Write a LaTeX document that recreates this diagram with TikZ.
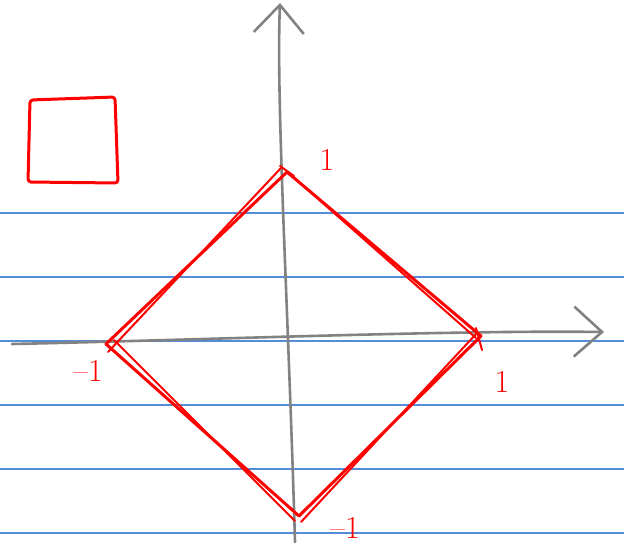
\documentclass[tikz,border=0pt]{standalone}
\usetikzlibrary{arrows.meta}
\definecolor{ruleblue}{RGB}{85,140,215}
\definecolor{axisgray}{RGB}{130,130,130}
\begin{document}
\begin{tikzpicture}[x=1pt,y=-1pt,line cap=round,line join=round,
    axis/.style={axisgray,line width=2.6pt,-{Straight Barb[length=28pt,width=50pt]}},
    sketch/.style={red,line width=3pt},
    tick/.style={red,font=\fontsize{32}{32}\selectfont}]
  \useasboundingbox (0,0) rectangle (624,549);
  \fill[white] (0,0) rectangle (624,549);

  % Ruled lines
  \foreach \y in {213,277,341,405,469,533}
     {\draw[ruleblue,line width=1.3pt] (0,\y) -- (624,\y);}

  % Axes ends
  \coordinate (X0) at (12,344);
  \coordinate (X1) at (604,332);
  \coordinate (Y0) at (295,542);
  \coordinate (Y1) at (280,3);

  % Axes
  \draw[axis] (X0) .. controls (200,340) and (450,330) .. (X1);
  \draw[axis] (Y0) .. controls (288,300) and (276,100) .. (Y1);

  % Square in the corner
  \draw[sketch,rounded corners=3pt] (30,100) -- (115,97) -- (118,183) -- (28,182) -- cycle;

  % Diamond corners
  \coordinate (T) at (287,172);
  \coordinate (R) at (481,336);
  \coordinate (B) at (299,516);
  \coordinate (L) at (106,344);

  % Diamond (two strokes for the sketchy look)
  \draw[sketch] (T) -- (R) -- (B) -- (L) -- cycle;
  \draw[sketch,line width=2pt] ([xshift=4pt,yshift=-3pt]T) -- ([xshift=-5pt,yshift=-2pt]R);
  \draw[sketch,line width=2pt] ([xshift=-4pt,yshift=3pt]R) -- ([xshift=2pt,yshift=-6pt]B);
  \draw[sketch,line width=2pt] ([xshift=-4pt,yshift=-5pt]B) -- ([xshift=8pt,yshift=4pt]L);
  \draw[sketch,line width=2pt] ([xshift=2pt,yshift=-8pt]L) -- ([xshift=-6pt,yshift=4pt]T);
  \draw[sketch,line width=2pt] (280,166) -- (294,176);
  \draw[sketch,line width=2pt] (476,328) -- (482,350);

  % Tick labels
  \foreach \n/\x/\y/\l in {t1/327/160/1,t2/88/371/\textendash1,t3/502/382/1,t4/345/528/\textendash1}
     {\node[tick] (\n) at (\x,\y) {\l};}
\end{tikzpicture}
\end{document}
